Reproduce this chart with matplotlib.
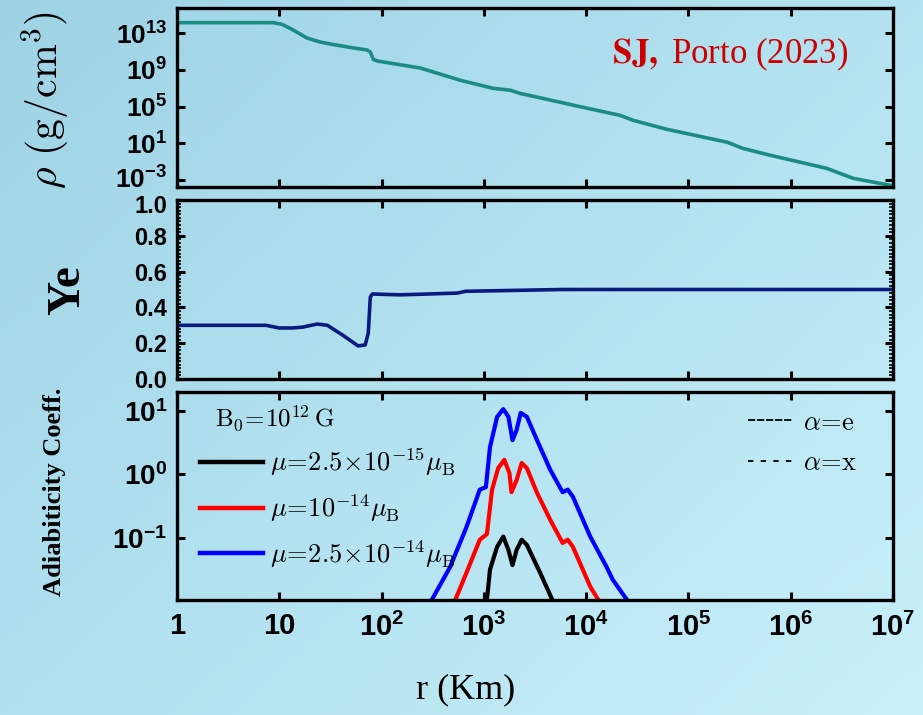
import numpy as np
import matplotlib.pyplot as plt
from matplotlib.font_manager import FontProperties
from matplotlib.ticker import NullLocator, FixedLocator
from matplotlib.transforms import ScaledTranslation

plt.rcParams['mathtext.fontset'] = 'custom'
plt.rcParams['mathtext.rm'] = 'Liberation Sans:bold'
plt.rcParams['mathtext.bf'] = 'Liberation Sans:bold'
plt.rcParams['mathtext.it'] = 'Liberation Sans:bold'
plt.rcParams['mathtext.default'] = 'rm'
plt.rcParams['axes.linewidth'] = 2.4

# ---- density profile (log10 r [km], log10 rho [g/cm^3]) ----
rho_logr = [0.0, 0.94, 1.02, 1.10, 1.20, 1.27, 1.40, 1.50, 1.70, 1.86, 1.89, 1.92, 1.96,
            2.38, 2.77, 3.09, 3.26, 3.35, 3.97, 4.33, 4.46, 4.79, 5.38, 5.53, 5.80,
            6.35, 6.61, 6.97, 7.0]
rho_log = [14.16, 14.16, 14.0, 13.58, 12.95, 12.49, 12.05, 11.83, 11.45, 11.18, 10.96, 10.15, 9.98,
           9.21, 7.88, 7.0, 6.79, 6.46, 4.93, 4.06, 3.51, 2.53, 1.12, 0.46, -0.30,
           -1.72, -2.81, -3.57, -3.62]

# ---- electron fraction ----
ye_logr = [0.0, 0.87, 1.0, 1.13, 1.23, 1.37, 1.47, 1.62, 1.77, 1.84, 1.87, 1.89, 1.91,
           2.18, 2.74, 2.82, 3.77, 7.0]
ye_val = [0.30, 0.30, 0.285, 0.285, 0.29, 0.307, 0.30, 0.245, 0.185, 0.19, 0.257, 0.458, 0.475,
          0.47, 0.48, 0.49, 0.50, 0.50]

# ---- adiabaticity coefficient, B0 = 1e12 G ----
blue_logr = [2.49, 2.67, 2.83, 2.96, 3.02, 3.06, 3.13, 3.19, 3.24, 3.28, 3.32, 3.36, 3.42,
             3.52, 3.65, 3.77, 3.82, 3.87, 4.04, 4.20, 4.26, 4.40]
blue_log = [-1.98, -1.46, -0.83, -0.24, -0.20, 0.43, 0.91, 1.03, 0.91, 0.54, 0.70, 0.97, 0.91,
            0.54, 0.07, -0.28, -0.24, -0.35, -0.98, -1.46, -1.66, -1.98]
red_logr = [2.72, 2.83, 2.96, 3.03, 3.08, 3.14, 3.20, 3.25, 3.27, 3.32, 3.37, 3.42,
            3.52, 3.65, 3.77, 3.82, 3.87, 4.04, 4.12]
red_log = [-1.98, -1.55, -1.03, -0.94, -0.24, 0.10, 0.23, 0.02, -0.28, -0.09, 0.18, 0.10,
           -0.29, -0.72, -1.08, -1.03, -1.14, -1.77, -1.98]
black_logr = [3.03, 3.06, 3.13, 3.19, 3.24, 3.28, 3.32, 3.37, 3.42, 3.55, 3.67]
black_log = [-1.98, -1.50, -1.14, -0.98, -1.19, -1.43, -1.19, -1.03, -1.11, -1.55, -1.98]

mu_labels = [r'$\mu\!=\!2.5\!\times\!10^{-15}\mu_{\mathrm{B}}$',
             r'$\mu\!=\!10^{-14}\mu_{\mathrm{B}}$',
             r'$\mu\!=\!2.5\!\times\!10^{-14}\mu_{\mathrm{B}}$']

xticks = [1, 10, 1e2, 1e3, 1e4, 1e5, 1e6, 1e7]
xlabels = ['1', '10', r'$10^{2}$', r'$10^{3}$', r'$10^{4}$', r'$10^{5}$', r'$10^{6}$', r'$10^{7}$']

W, H = 923, 715
fig = plt.figure(figsize=(W / 100, H / 100), dpi=100)

# background gradient
bg = fig.add_axes([0, 0, 1, 1], zorder=-10)
gx, gy = np.meshgrid(np.linspace(0, 1, 200), np.linspace(0, 1, 200))
t = np.clip(0.55 * gx + 0.45 * gy, 0, 1)[..., None]
c0 = np.array([158, 211, 229]) / 255
c1 = np.array([200, 240, 250]) / 255
bg.imshow(c0 + (c1 - c0) * t, extent=[0, 1, 0, 1], aspect='auto', origin='upper')
bg.axis('off')


def box(top, bottom):
    return [177 / W, 1 - bottom / H, (893 - 177) / W, (bottom - top) / H]


ax1 = fig.add_axes(box(8, 187))
ax2 = fig.add_axes(box(200, 379))
ax3 = fig.add_axes(box(392, 600))

tickfont = dict(family='Liberation Sans', weight='bold')

for ax in (ax1, ax2, ax3):
    ax.set_facecolor('none')
    ax.set_xscale('log')
    ax.set_xlim(1, 1e7)
    ax.xaxis.set_major_locator(FixedLocator(xticks))
    ax.xaxis.set_minor_locator(NullLocator())
    ax.tick_params(which='major', direction='in', length=6, width=2.2,
                   top=True, right=True, pad=7)
    ax.tick_params(which='minor', direction='in', length=3, width=1.2,
                   top=False, right=True, left=True)

# panel 1: density
ax1.plot(10 ** np.array(rho_logr), 10 ** np.array(rho_log), color='#1b8c84', lw=2.6)
ax1.set_yscale('log')
ax1.set_ylim(10 ** -3.76, 10 ** 15.76)
ax1.yaxis.set_major_locator(FixedLocator([1e-3, 1e1, 1e5, 1e9, 1e13]))
ax1.yaxis.set_minor_locator(NullLocator())
ax1.set_yticklabels([r'$10^{-3}$', r'$10^{1}$', r'$10^{5}$', r'$10^{9}$', r'$10^{13}$'],
                    fontsize=19, **tickfont)
ax1.set_xticklabels([])

# panel 2: Ye
ax2.plot(10 ** np.array(ye_logr), ye_val, color='#0b1a7e', lw=2.6)
ax2.set_ylim(0, 1)
ax2.set_yticks(np.arange(0, 1.01, 0.2))
ax2.set_yticks(np.arange(0, 1.001, 0.02), minor=True)
ax2.set_yticklabels(['0.0', '0.2', '0.4', '0.6', '0.8', '1.0'], fontsize=17, **tickfont)
ax2.set_xticklabels([])

# keep the 10^-3 and 1.0 labels from touching
lab_lo = ax1.yaxis.get_major_ticks()[0].label1
lab_lo.set_transform(lab_lo.get_transform() + ScaledTranslation(0, 2 / 72, fig.dpi_scale_trans))
lab_hi = ax2.yaxis.get_major_ticks()[-1].label1
lab_hi.set_transform(lab_hi.get_transform() + ScaledTranslation(0, -3 / 72, fig.dpi_scale_trans))

# panel 3: adiabaticity
for lr, lv, col, lab in ((black_logr, black_log, 'black', mu_labels[0]),
                         (red_logr, red_log, '#ff0000', mu_labels[1]),
                         (blue_logr, blue_log, '#0000ff', mu_labels[2])):
    ax3.plot(10 ** np.array(lr), 10 ** np.array(lv), color=col, lw=3.0, label=lab)
    ax3.plot(10 ** np.array(lr), 10 ** np.array(lv), color=col, lw=1.8, ls=(0, (3, 2)))
ax3.set_yscale('log')
ax3.set_ylim(10 ** -1.98, 10 ** 1.30)
ax3.yaxis.set_major_locator(FixedLocator([1e-1, 1, 10]))
ax3.yaxis.set_minor_locator(NullLocator())
ax3.set_yticklabels([r'$10^{-1}$', r'$10^{0}$', r'$10^{1}$'], fontsize=20, **tickfont)
ax3.set_xticklabels(xlabels, fontsize=21, **tickfont)
ax3.tick_params(axis='x', pad=9)

cmprop = FontProperties(family='DejaVu Serif', size=19, math_fontfamily='cm')
leg = ax3.legend(loc='upper left', bbox_to_anchor=(-0.005, 0.865), frameon=False, prop=cmprop,
                 handlelength=2.4, handletextpad=0.25, labelspacing=0.52, borderaxespad=0.6)
for ln in leg.get_lines():
    ln.set_linewidth(3.2)
ax3.add_artist(leg)
ax3.text(215 / W, 1 - 418 / H, r'$\mathrm{B_0\!=\!10^{12}\,G}$', transform=fig.transFigure,
         fontproperties=FontProperties(size=18, math_fontfamily='cm'), va='center', ha='left')

h1, = ax3.plot([], [], color='black', lw=1.3, ls=(0, (4, 1)))
h2, = ax3.plot([], [], color='black', lw=1.3, ls=(0, (3, 4)))
ax3.legend([h1, h2], [r'$\alpha\!=\!\mathrm{e}$', r'$\alpha\!=\!\mathrm{x}$'], loc='upper left',
           bbox_to_anchor=(0.765, 1.03), frameon=False,
           prop=FontProperties(size=19, math_fontfamily='cm'),
           handlelength=1.7, handletextpad=0.35, labelspacing=0.55)

# axis labels
fig.text(45 / W, 1 - 100 / H, r'$\rho\ (\mathrm{g/cm^3})$', rotation=90, ha='center', va='center',
         fontproperties=FontProperties(size=30, math_fontfamily='cm'))
fig.text(68 / W, 1 - 290 / H, 'Ye', rotation=90, ha='center', va='center',
         family='Liberation Serif', weight='bold', fontsize=34)
fig.text(55 / W, 1 - 492 / H, 'Adiabiticity Coeff.', rotation=90, ha='center', va='center',
         family='Liberation Serif', weight='bold', fontsize=19)
fig.text(466 / W, 1 - 690 / H, 'r (Km)', ha='center', va='center',
         family='Liberation Serif', fontsize=26)

fig.text(612 / W, 1 - 63 / H, r'$\mathbf{SJ,}$ Porto (2023)', ha='left', va='baseline',
         color='#cc0000', family='Liberation Serif', fontsize=25,
         math_fontfamily='stix')

fig.savefig('out.png', dpi=100)
